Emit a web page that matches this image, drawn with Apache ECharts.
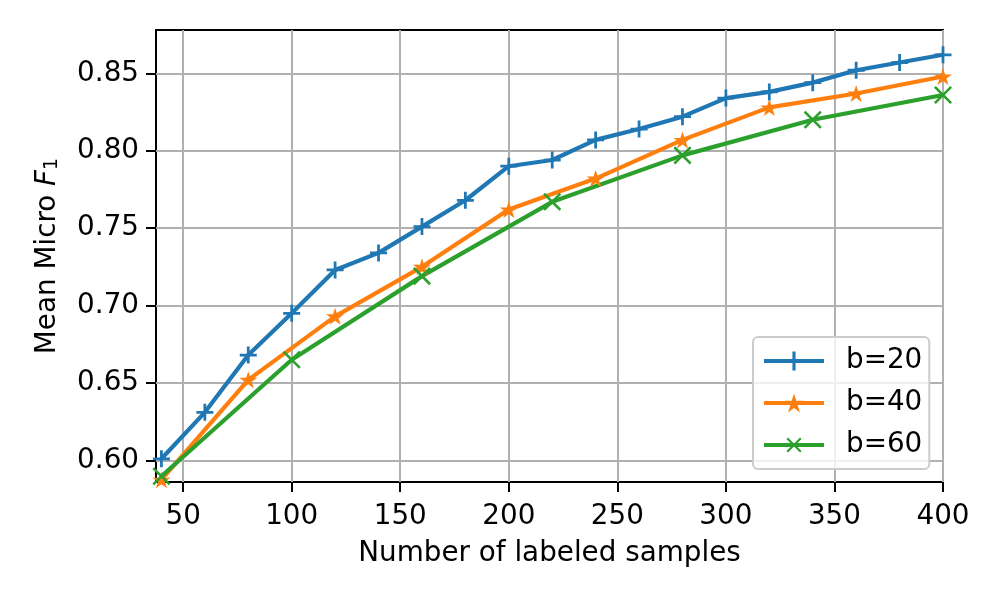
<!DOCTYPE html>
<html>
<head>
<meta charset="utf-8">
<script src="https://cdn.jsdelivr.net/npm/echarts@6/dist/echarts.min.js"></script>
<style>
html, body { margin: 0; padding: 0; background: #fff; }
#chart { width: 1000px; height: 600px; }
</style>
</head>
<body>
<div id="chart"></div>
<script>
// values
var xB20 = [40, 60, 80, 100, 120, 140, 160, 180, 200, 220, 240, 260, 280, 300, 320, 340, 360, 380, 400];
var yB20 = [0.601, 0.631, 0.668, 0.695, 0.723, 0.734, 0.751, 0.768, 0.790, 0.794, 0.807, 0.814, 0.822, 0.834, 0.838, 0.844, 0.852, 0.857, 0.862];
var xB40 = [40, 80, 120, 160, 200, 240, 280, 320, 360, 400];
var yB40 = [0.5875, 0.652, 0.693, 0.725, 0.762, 0.782, 0.807, 0.828, 0.837, 0.848];
var xB60 = [40, 100, 160, 220, 280, 340, 400];
var yB60 = [0.5897, 0.665, 0.719, 0.767, 0.797, 0.820, 0.836];
var xTicks = [50, 100, 150, 200, 250, 300, 350, 400];
var yTicks = [0.60, 0.65, 0.70, 0.75, 0.80, 0.85];

var font = 'DejaVu Sans';
var fs = 27.8;

// marker shapes (matplotlib '+', '*', 'x')
var plusPath = 'path://M-1.3,-8L1.3,-8L1.3,-1.3L8,-1.3L8,1.3L1.3,1.3L1.3,8L-1.3,8L-1.3,1.3L-8,1.3L-8,-1.3L-1.3,-1.3Z';
var thinPlusPath = 'path://M-0.9,-8L0.9,-8L0.9,-0.9L8,-0.9L8,0.9L0.9,0.9L0.9,8L-0.9,8L-0.9,0.9L-8,0.9L-8,-0.9L-0.9,-0.9Z';
var starPath = 'path://M0,-100L-22.45,-30.9L-95.11,-30.9L-36.33,11.8L-58.78,80.9L0,38.2L58.78,80.9L36.33,11.8L95.11,-30.9L22.45,-30.9Z';

function pairs(xs, ys) {
	var out = [];
	for (var i = 0; i < xs.length; i++) {
		out.push([xs[i], ys[i]]);
	}
	return out;
}

var myChart = echarts.init(document.getElementById('chart'));
var option = {
	animation: false,
	backgroundColor: '#fff',
	grid: {
		left: 156,
		right: 57,
		top: 30,
		bottom: 118,
		show: true,
		borderColor: '#000',
		borderWidth: 2
	},
	legend: {
		orient: 'vertical',
		left: 753,
		top: 337,
		padding: [10, 7, 10, 9],
		itemGap: 14,
		itemWidth: 60,
		itemHeight: 24,
		backgroundColor: 'rgba(255,255,255,0.8)',
		borderColor: '#cccccc',
		borderWidth: 2,
		borderRadius: 5,
		lineStyle: { width: 4 },
		textStyle: {
			fontFamily: font,
			fontSize: fs,
			color: '#000',
			padding: [0, 0, 0, 17]
		},
		data: ['b=20', 'b=40', 'b=60']
	},
	xAxis: {
		type: 'value',
		min: 37.5,
		max: 400,
		name: 'Number of labeled samples',
		nameLocation: 'middle',
		nameGap: 58,
		nameTextStyle: { fontFamily: font, fontSize: fs, color: '#000' },
		axisLine: { show: false },
		axisTick: {
			show: true,
			length: 10,
			lineStyle: { color: '#000', width: 2 },
			customValues: xTicks
		},
		axisLabel: {
			fontFamily: font,
			fontSize: fs,
			color: '#000',
			margin: 21,
			customValues: xTicks
		},
		splitLine: { show: true, lineStyle: { color: '#b0b0b0', width: 2 } }
	},
	yAxis: {
		type: 'value',
		min: 0.586,
		max: 0.878,
		name: 'Mean Micro {i|F}{s|1}',
		nameLocation: 'middle',
		nameRotate: 90,
		nameGap: 94,
		nameTextStyle: {
			fontFamily: font,
			fontSize: fs,
			color: '#000',
			rich: {
				i: { fontFamily: font, fontSize: fs, fontStyle: 'italic', color: '#000' },
				s: { fontFamily: font, fontSize: 19, color: '#000', verticalAlign: 'bottom', padding: [10, 0, 0, 0] }
			}
		},
		axisLine: { show: false },
		axisTick: {
			show: true,
			length: 10,
			lineStyle: { color: '#000', width: 2 },
			customValues: yTicks
		},
		axisLabel: {
			fontFamily: font,
			fontSize: fs,
			color: '#000',
			margin: 17,
			customValues: yTicks,
			formatter: function (v) { return v.toFixed(2); }
		},
		splitLine: { show: true, lineStyle: { color: '#b0b0b0', width: 2 } }
	},
	series: [
		{
			name: 'b=20',
			type: 'line',
			data: pairs(xB20, yB20),
			color: '#1f77b4',
			lineStyle: { width: 4.2 },
			symbol: plusPath,
			symbolSize: 17,
			showAllSymbol: true,
			itemStyle: { color: '#1f77b4', borderWidth: 0 }
		},
		{
			name: 'b=40',
			type: 'line',
			data: pairs(xB40, yB40),
			color: '#ff7f0e',
			lineStyle: { width: 4.2 },
			symbol: starPath,
			symbolSize: [18, 17],
			showAllSymbol: true,
			itemStyle: { color: '#ff7f0e', borderWidth: 0 }
		},
		{
			name: 'b=60',
			type: 'line',
			data: pairs(xB60, yB60),
			color: '#2ca02c',
			lineStyle: { width: 4.2 },
			symbol: thinPlusPath,
			symbolRotate: 45,
			symbolSize: 23,
			showAllSymbol: true,
			itemStyle: { color: '#2ca02c', borderWidth: 0 }
		}
	]
};
myChart.setOption(option);
</script>
</body>
</html>
